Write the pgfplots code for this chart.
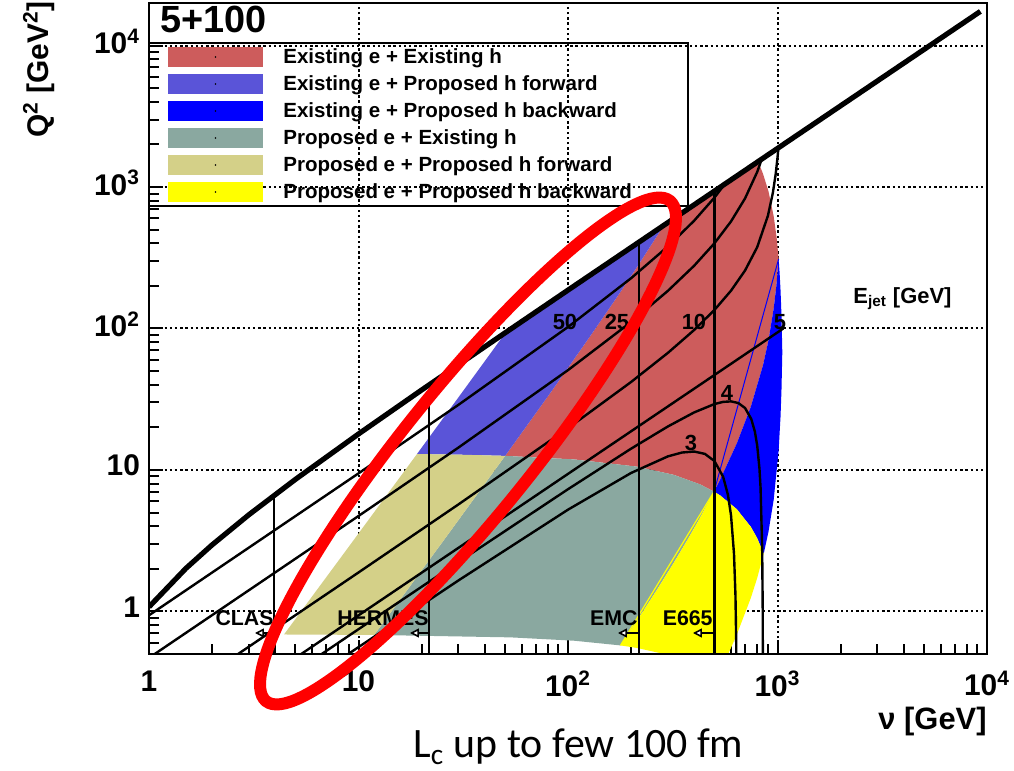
\documentclass[border=0pt]{standalone}
\usepackage{fontspec}
\setmainfont{Liberation Sans}
\newfontfamily\calibri{Carlito}
\usepackage{pgfplots}
\pgfplotsset{compat=1.18}
\usetikzlibrary{arrows.meta}
\definecolor{cRed}{RGB}{205,92,92}
\definecolor{cPurp}{RGB}{90,84,216}
\definecolor{cBlue}{RGB}{0,0,255}
\definecolor{cTeal}{RGB}{138,168,160}
\definecolor{cKhaki}{RGB}{212,208,136}
\definecolor{cYell}{RGB}{255,255,0}
\newcommand\fs[1]{\fontsize{#1}{#1}\selectfont\bfseries}
\begin{document}
\begin{tikzpicture}
\useasboundingbox (-74.5bp,-58.5bp) rectangle (432.5bp,327bp);
\begin{axis}[
  at={(0,0)}, anchor=south west,
  scale only axis, width=419bp, height=325.5bp,
  xmode=log, ymode=log,
  xmin=1, xmax=10000, ymin=0.5, ymax=20000,
  xtick={1,10,100,1000,10000},
  xticklabels={1,10,10\textsuperscript{2},10\textsuperscript{3},10\textsuperscript{4}},
  ytick={1,10,100,1000,10000},
  yticklabels={1,10,10\textsuperscript{2},10\textsuperscript{3},10\textsuperscript{4}},
  minor xtick={2,3,4,5,6,7,8,9,20,30,40,50,60,70,80,90,200,300,400,500,600,700,800,900,2000,3000,4000,5000,6000,7000,8000,9000},
  minor ytick={0.6,0.7,0.8,0.9,2,3,4,5,6,7,8,9,20,30,40,50,60,70,80,90,200,300,400,500,600,700,800,900,2000,3000,4000,5000,6000,7000,8000,9000},
  tick align=inside, tick pos=left,
  grid=major,
  major grid style={black, line width=1bp, dash pattern=on 1.2bp off 1.4bp},
  axis line style={line width=1bp},
  every tick/.style={black, line width=1bp},
  major tick length=7bp, minor tick length=5bp,
  tick label style={font=\fs{15}},
  typeset ticklabels with strut,
  xticklabel style={yshift=-5bp},
  yticklabel style={xshift=-1bp},
]
% regions
\addplot[fill=cRed, draw=none] coordinates {(50.13,12.58) (85.3,37.7) (127.9,88.7) (170.6,165.2) (213.2,271) (287.4,539.2) (806,1512) (831.5,1364) (852.8,1240) (906.1,930) (959.4,620) (991.4,434) (1012.7,310) (986,195.8) (959.4,139) (906.1,82.7) (852.8,54.9) (746.2,28.0) (639.6,15.4) (533,8.58) (497.8,7.03) (426.4,7.92) (319.8,9.24) (213.2,10.56) (106.6,11.88)};
\addplot[fill=cPurp, draw=none] coordinates {(19.02,12.96) (31.98,37.1) (50.8,95.2) (287.4,539.2) (213.2,271) (170.6,165.2) (127.9,88.7) (85.3,37.7) (50.13,12.58) (30,12.83)};
\addplot[fill=cBlue, draw=none] coordinates {(1012.7,310) (1023.4,248) (1034,186) (1044.7,124) (1054.3,68.0) (1044.7,36.6) (1034,23.9) (1012.7,13.77) (959.4,6.18) (906.1,3.675) (859.4,2.558) (799.5,3.3) (746.2,3.96) (639.6,5.28) (533,6.6) (497.8,7.03) (533,8.58) (639.6,15.4) (746.2,28.0) (852.8,54.9) (906.1,82.7) (959.4,139) (986,195.8)};
\addplot[fill=cTeal, draw=none] coordinates {(11.89,0.682) (26.65,3.475) (50.13,12.58) (106.6,11.88) (213.2,10.56) (319.8,9.24) (426.4,7.92) (497.8,7.03) (426.4,4.576) (373.1,3.234) (319.8,2.206) (266.5,1.43) (213.2,0.858) (178,0.575) (106.6,0.621) (53.3,0.6555)};
\addplot[fill=cKhaki, draw=none] coordinates {(4.41,0.687) (8.53,2.581) (19.02,12.96) (30,12.83) (50.13,12.58) (26.65,3.475) (11.89,0.682)};
\addplot[fill=cYell, draw=none] coordinates {(497.8,7.03) (426.4,4.576) (373.1,3.234) (319.8,2.206) (266.5,1.43) (213.2,0.858) (178,0.575) (213.2,0.552) (319.8,0.483) (426.4,0.414) (519.6,0.3537) (533,0.3815) (586.3,0.513) (639.6,0.687) (746.2,1.246) (799.5,1.717) (859.4,2.558) (799.5,3.3) (746.2,3.96) (639.6,5.28) (533,6.6)};
\addplot[cBlue, line width=0.5bp] coordinates {(497.8,7.03) (1012.7,310)};
\addplot[cYell, line width=0.6bp] coordinates {(178,0.575) (497.8,7.03)};
% E_jet curves
\addplot[black, line width=1.2bp] coordinates {(1,0.9388) (10,9.46) (30,28.87) (100,102.5) (200,226.6) (300,380.5) (400,577.9) (500,841.8) (561,1052.6)};
\addplot[black, line width=1.2bp] coordinates {(1,0.4694) (10,4.726) (30,14.40) (100,50.78) (200,111.1) (300,184.8) (400,277.7) (500,400.2) (600,571.4) (700,830.8) (800,1278) (841.6,1579)};
\addplot[black, line width=1.2bp] coordinates {(2.6,0.4884) (10,1.885) (30,5.709) (100,19.73) (200,41.85) (300,67.3) (400,97.57) (500,135.2) (600,185.1) (700,257.0) (800,375.9) (900,626.7) (950,908.2) (980,1231) (1000,1609) (1009.9,1894.7)};
\addplot[black, line width=1.2bp] coordinates {(5.0,0.469) (1066,100)};
\addplot[black, line width=1.2bp] coordinates {(6.5,0.487) (10,0.7486) (30,2.235) (100,7.31) (200,14.14) (300,20.31) (400,25.51) (500,29.24) (550,30.28) (600,30.53) (650,29.72) (700,27.41) (750,22.88) (780,18.63) (800,14.89) (820,10.26) (830,7.53) (845,2.79) (850,1.023) (852,0.2986)};
\addplot[black, line width=1.2bp] coordinates {(8.7,0.487) (10,0.5592) (30,1.656) (100,5.24) (200,9.52) (300,12.48) (350,13.28) (400,13.50) (450,12.99) (500,11.57) (550,8.955) (580,6.67) (600,4.78) (620,2.558) (630,1.30) (635,0.634) (637,0.356)};
% experiment limits
\addplot[black, line width=1bp] coordinates {(3.96,0.5) (3.96,6.63)};
\addplot[black, line width=1bp] coordinates {(21.8,0.5) (21.8,29)};
\addplot[black, line width=1bp] coordinates {(218,0.5) (218,408)};
\addplot[black, line width=1.5bp] coordinates {(498,0.5) (498,933)};
% kinematic limit
\addplot[black, line width=2.6bp] coordinates {(1,1.076) (1.5,2.014) (2,2.952) (3,4.828) (5,8.58) (10,17.96) (20,36.72) (50,93.0) (100,186.8) (1000,1875) (9300,17446)};
\end{axis}
\draw[line width=1bp] (0,0) rectangle (419bp,325.5bp);
\begin{scope}[x=0.5bp,y=-0.5bp,shift={(-149,-654)}]
  % legend
  \draw[line width=1bp] (149,43) rectangle (688,206);
  \node[anchor=base west, inner sep=0, font=\fs{19}] at (160,32) {5+100};
  \foreach \c/\yc/\t in {cRed/57/{Existing e + Existing h}, cPurp/84/{Existing e + Proposed h forward}, cBlue/111/{Existing e + Proposed h backward}, cTeal/138/{Proposed e + Existing h}, cKhaki/165/{Proposed e + Proposed h forward}, cYell/192/{Proposed e + Proposed h backward}}{
    \fill[\c] (168,\yc-10) rectangle (263,\yc+10);
    \fill[black] (215.5,\yc) circle (0.9);
    \node[anchor=base west, inner sep=0, font=\fs{10.3}] at (283,\yc+6.5) {\t};
  }
  % E_jet labels
  \node[font=\fs{11}] at (565,322) {50};
  \node[font=\fs{11}] at (617,322) {25};
  \node[font=\fs{11}] at (694,322) {10};
  \node[font=\fs{11}] at (780,322) {5};
  \node[font=\fs{11}] at (727,393) {4};
  \node[font=\fs{11}] at (691,443) {3};
  \node[anchor=base west, inner sep=0, font=\fs{11}] at (853,303) {E\textsubscript{jet} [GeV]};
  % experiments
  \node[anchor=base east, inner sep=0, font=\fs{10.7}] at (274,625) {CLAS};
  \node[anchor=base east, inner sep=0, font=\fs{10.7}] at (429,625) {HERMES};
  \node[anchor=base east, inner sep=0, font=\fs{10.7}] at (638,625) {EMC};
  \node[anchor=base east, inner sep=0, font=\fs{10.7}] at (713,625) {E665};
  \foreach \xa/\xb in {274/255, 429/410, 639/618, 714/693}{
    \draw[line width=0.8bp, -{Triangle[fill=white, length=4.5bp, width=4.5bp, line width=0.8bp]}] (\xa,633) -- (\xb,633);
  }
  % axis titles
  \node[rotate=90, anchor=base west, inner sep=0, font=\fs{15}] at (48,138) {Q\textsuperscript{2} [GeV\textsuperscript{2}]};
  \node[anchor=base east, inner sep=0, font=\fs{15.5}] at (987,730) {ν [GeV]};
  % caption
  \node[anchor=base west, inner sep=0, font=\calibri\fontsize{21}{25}\selectfont] at (413,758) {L\textsubscript{c} up to few 100 fm};
\end{scope}
% annotation ellipse
\draw[red, line width=6bp, rotate around={51.1:(159.5bp,101.5bp)}] (159.5bp,101.5bp) ellipse [x radius=160.75bp, y radius=32bp];
\end{tikzpicture}
\end{document}
